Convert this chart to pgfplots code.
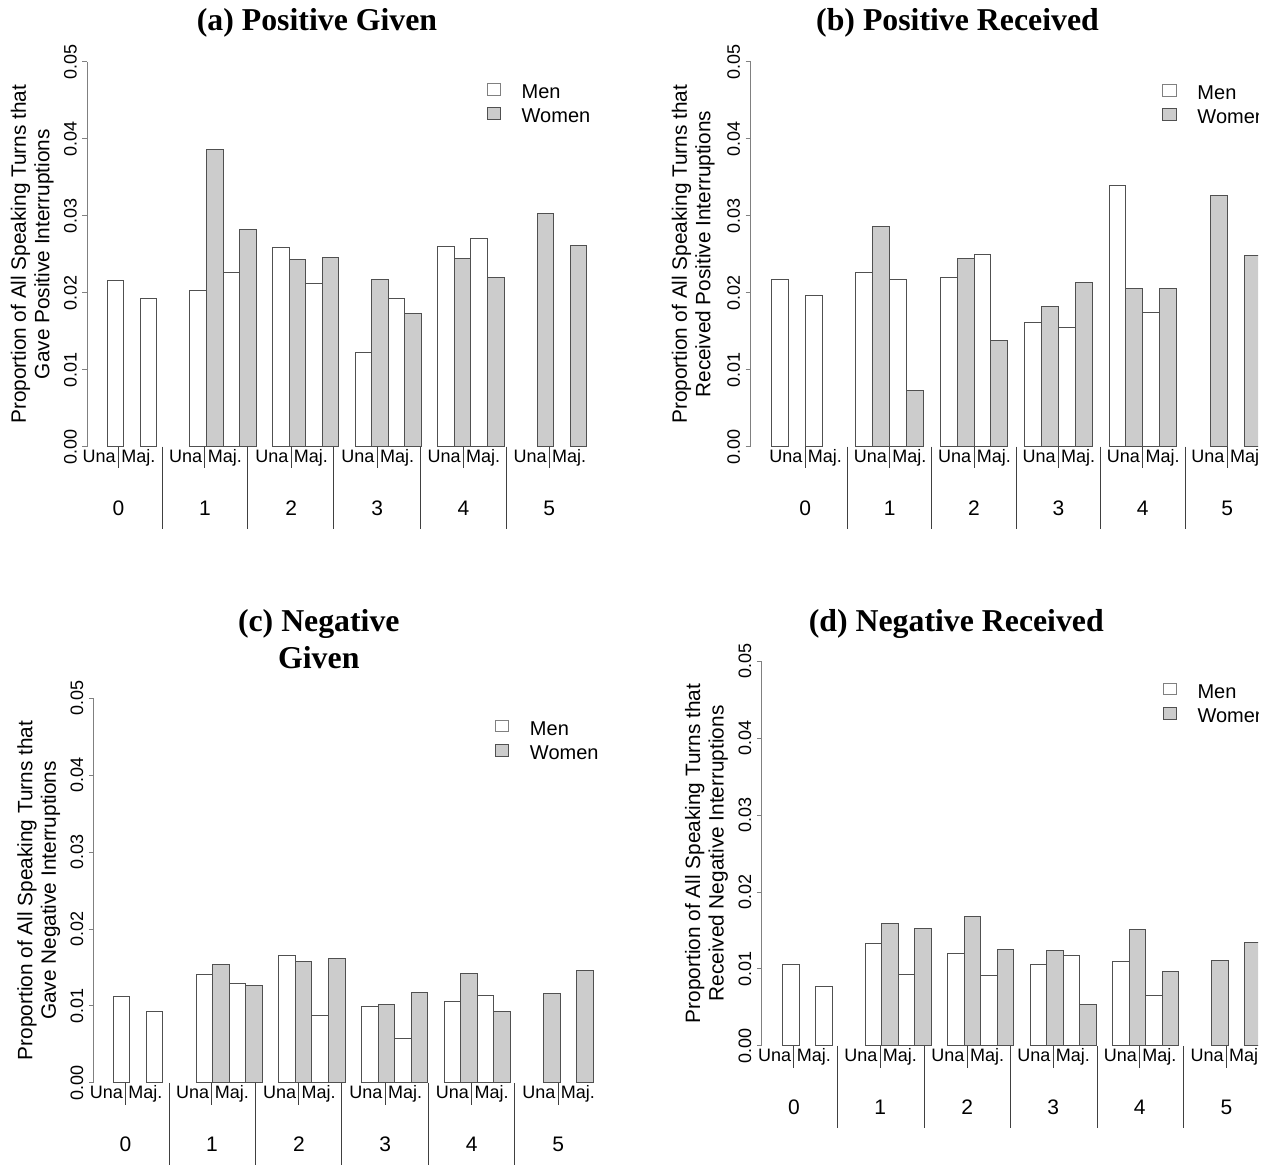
\documentclass[border=0pt]{standalone}
\usepackage{fontspec}
\setmainfont{Liberation Sans}
\newfontfamily\titlefont{Liberation Serif}
\usepackage{pgfplots}
\pgfplotsset{compat=1.18}

\definecolor{barfill}{HTML}{CCCCCC}
\definecolor{bardraw}{HTML}{505050}
\definecolor{axgray}{HTML}{808080}
\definecolor{sepgray}{HTML}{404040}

\newcommand{\smallfont}{\fontsize{9}{10}\selectfont}
\newcommand{\numfont}{\fontsize{10.5}{12}\selectfont}
\newcommand{\labfont}{\fontsize{10.4}{11.75}\selectfont}
\newcommand{\ttlfont}{\titlefont\bfseries\fontsize{15.9}{18.4}\selectfont}

\newcommand{\sepgrp}[2]{%
  \draw[sepgray, line width=0.5pt] (axis cs:#1,0) -- ++(0pt,-10.8pt);
  \node[anchor=base east, inner sep=0pt, font=\smallfont] at ([xshift=-1.2pt,yshift=-8pt]axis cs:#1,0) {Una};
  \node[anchor=base west, inner sep=0pt, font=\smallfont] at ([xshift=1.2pt,yshift=-8pt]axis cs:#1,0) {Maj.};
  \node[anchor=base, inner sep=0pt, font=\numfont] at ([yshift=-34.2pt]axis cs:#1,0) {#2};
}
\newcommand{\longln}[1]{\draw[sepgray, line width=0.5pt] (axis cs:#1,0) -- ++(0pt,-41pt);}

\pgfplotsset{
  panel/.style={
    scale only axis, height=192.5pt,
    ymin=0, ymax=0.05,
    axis x line=none, axis y line=left,
    y axis line style={-, draw=axgray, line width=0.5pt},
    ytick={0,0.01,0.02,0.03,0.04,0.05},
    yticklabels={0.00,0.01,0.02,0.03,0.04,0.05},
    scaled y ticks=false,
    tick align=outside, major tick length=2.5pt,
    ytick style={draw=axgray, line width=0.5pt},
    yticklabel style={rotate=90, anchor=base, inner sep=0pt, font=\fontsize{9}{10}\selectfont},
    yticklabel shift=2.8pt,
    clip=false,
    legend cell align=left,
    legend style={draw=none, fill=none, inner sep=0pt, outer sep=0pt, anchor=north west,
      font=\fontsize{10}{11}\selectfont, row sep=4.3pt,
      nodes={inner sep=0pt, text height=7.16pt, text depth=0pt}},
  },
  men/.style={ybar, bar width=1, bar shift=0pt, fill=white, draw=bardraw, line width=0.5pt,
    legend image code/.code={\draw[fill=white, draw=axgray, line width=0.5pt] (0pt,-1.9pt) rectangle (6.65pt,3.95pt); \path (17pt,0pt);}},
  women/.style={ybar, bar width=1, bar shift=0pt, fill=barfill, draw=bardraw, line width=0.5pt,
    legend image code/.code={\draw[fill=barfill, draw=bardraw, line width=0.5pt] (0pt,-1.9pt) rectangle (6.65pt,3.95pt); \path (17pt,0pt);}},
}

\begin{document}
\begin{tikzpicture}
\useasboundingbox (0,0) rectangle (635.5pt,-582.5pt);
\clip (0,0) rectangle (629pt,-582.5pt);

% ---------------- (a) ----------------
\node[font=\ttlfont] at (158.5pt,-11.2pt) {(a) Positive Given};
\begin{axis}[panel, at={(43.65pt,-223.35pt)}, anchor=south west, width=259.7pt,
  xmin=-1.21, xmax=30.21, legend style={at={(0.769,0.945)}}]
\addplot[men] coordinates {(0.5,0.02154) (2.5,0.01926) (5.5,0.02033) (7.5,0.0226) (10.5,0.0259) (12.5,0.0212) (15.5,0.01224) (17.5,0.0193) (20.5,0.0260) (22.5,0.0270)};
\addlegendentry{Men}
\addplot[women] coordinates {(6.5,0.0386) (8.5,0.0282) (11.5,0.0243) (13.5,0.0246) (16.5,0.0217) (18.5,0.01734) (21.5,0.0245) (23.5,0.0220) (26.5,0.0303) (28.5,0.0261)};
\addlegendentry{Women}
\node[rotate=90, align=center, font=\labfont] at ([xshift=-27.5pt]rel axis cs:0,0.5) {Proportion of All Speaking Turns that\\Gave Positive Interruptions};
\sepgrp{0.68}{0}\sepgrp{5.91}{1}\sepgrp{11.12}{2}\sepgrp{16.33}{3}\sepgrp{21.54}{4}\sepgrp{26.74}{5}
\longln{3.36}\longln{8.49}\longln{13.70}\longln{18.93}\longln{24.14}
\end{axis}

% ---------------- (b) ----------------
\node[font=\ttlfont] at (478.75pt,-11.2pt) {(b) Positive Received};
\begin{axis}[panel, at={(375.25pt,-223.35pt)}, anchor=south west, width=265.7pt,
  xmin=-1.24, xmax=30.24, legend style={at={(0.7753,0.9423)}}]
\addplot[men] coordinates {(0.5,0.02176) (2.5,0.01966) (5.5,0.0226) (7.5,0.02167) (10.5,0.02198) (12.5,0.02502) (15.5,0.01613) (17.5,0.0155) (20.5,0.03387) (22.5,0.01738)};
\addlegendentry{Men}
\addplot[women] coordinates {(6.5,0.0286) (8.5,0.00733) (11.5,0.02444) (13.5,0.01381) (16.5,0.01819) (18.5,0.02131) (21.5,0.02055) (23.5,0.02055) (26.5,0.03266) (28.5,0.02484)};
\addlegendentry{Women}
\node[rotate=90, align=center, font=\labfont] at ([xshift=-28.65pt]rel axis cs:0,0.5) {Proportion of All Speaking Turns that\\Received Positive Interruptions};
\sepgrp{2}{0}\sepgrp{7}{1}\sepgrp{12}{2}\sepgrp{17}{3}\sepgrp{22}{4}\sepgrp{27}{5}
\longln{4.5}\longln{9.5}\longln{14.5}\longln{19.5}\longln{24.5}
\end{axis}

% ---------------- (c) ----------------
\node[font=\ttlfont, align=center] at (159.4pt,-319.7pt) {(c) Negative\\Given};
\begin{axis}[panel, at={(46.9pt,-541.5pt)}, anchor=south west, width=259.5pt,
  xmin=-1.18, xmax=30.18, legend style={at={(0.773,0.9436)}}]
\addplot[men] coordinates {(0.5,0.01118) (2.5,0.00932) (5.5,0.01403) (7.5,0.01289) (10.5,0.01651) (12.5,0.00871) (15.5,0.00999) (17.5,0.00576) (20.5,0.01061) (22.5,0.01142)};
\addlegendentry{Men}
\addplot[women] coordinates {(6.5,0.01537) (8.5,0.01261) (11.5,0.01584) (13.5,0.01613) (16.5,0.01018) (18.5,0.0117) (21.5,0.01422) (23.5,0.00923) (26.5,0.01156) (28.5,0.01456)};
\addlegendentry{Women}
\node[rotate=90, align=center, font=\labfont] at ([xshift=-27.5pt]rel axis cs:0,0.5) {Proportion of All Speaking Turns that\\Gave Negative Interruptions};
\sepgrp{0.74}{0}\sepgrp{5.96}{1}\sepgrp{11.21}{2}\sepgrp{16.43}{3}\sepgrp{21.66}{4}\sepgrp{26.88}{5}
\longln{3.38}\longln{8.60}\longln{13.79}\longln{19.05}\longln{24.27}
\end{axis}

% ---------------- (d) ----------------
\node[font=\ttlfont] at (478.15pt,-312pt) {(d) Negative Received};
\begin{axis}[panel, at={(380.9pt,-523pt)}, anchor=south west, width=260.2pt,
  xmin=-1.27, xmax=30.27, legend style={at={(0.77,0.9436)}}]
\addplot[men] coordinates {(0.5,0.01062) (2.5,0.00767) (5.5,0.01329) (7.5,0.00924) (10.5,0.01195) (12.5,0.0091) (15.5,0.01062) (17.5,0.01181) (20.5,0.011) (22.5,0.00652)};
\addlegendentry{Men}
\addplot[women] coordinates {(6.5,0.01595) (8.5,0.01524) (11.5,0.01676) (13.5,0.01248) (16.5,0.01238) (18.5,0.00533) (21.5,0.01519) (23.5,0.00971) (26.5,0.0111) (28.5,0.01343)};
\addlegendentry{Women}
\node[rotate=90, align=center, font=\labfont] at ([xshift=-27.7pt]rel axis cs:0,0.5) {Proportion of All Speaking Turns that\\Received Negative Interruptions};
\sepgrp{0.68}{0}\sepgrp{5.90}{1}\sepgrp{11.18}{2}\sepgrp{16.39}{3}\sepgrp{21.63}{4}\sepgrp{26.89}{5}
\longln{3.33}\longln{8.58}\longln{13.79}\longln{19.05}\longln{24.26}
\end{axis}
\end{tikzpicture}
\end{document}
